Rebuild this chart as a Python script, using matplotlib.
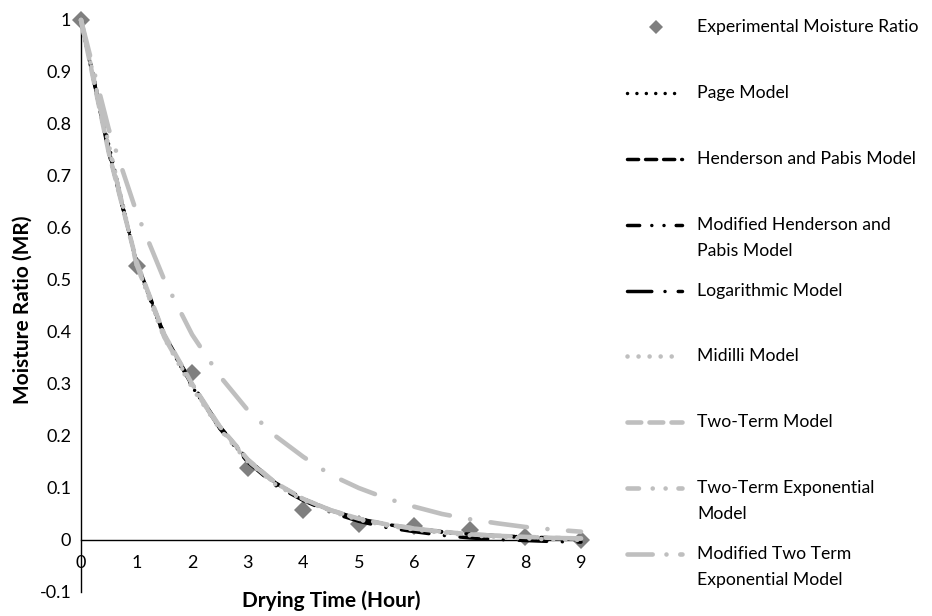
import matplotlib
matplotlib.use("Agg")
import matplotlib.pyplot as plt
from matplotlib.lines import Line2D

plt.rcParams['font.family'] = ['Lato', 'DejaVu Sans']

# ---------------- data ----------------
t_exp = [0, 1, 2, 3, 4, 5, 6, 7, 8, 9]
mr_exp = [1.0, 0.527, 0.321, 0.138, 0.058, 0.031, 0.027, 0.019, 0.006, 0.0]

t_model = [0, 0.5, 1, 1.5, 2, 2.5, 3, 3.5, 4, 4.5, 5, 5.5, 6, 6.5, 7, 7.5, 8, 8.5, 9]
mr_page = [1.0, 0.76, 0.532, 0.39, 0.295, 0.215, 0.152, 0.108, 0.078, 0.056, 0.040,
           0.029, 0.021, 0.015, 0.010, 0.007, 0.005, 0.003, 0.002]
mr_henderson = [1.0, 0.745, 0.535, 0.395, 0.300, 0.218, 0.155, 0.110, 0.079, 0.057, 0.041,
                0.030, 0.022, 0.016, 0.011, 0.008, 0.006, 0.004, 0.003]
mr_mod_henderson = [1.0, 0.748, 0.534, 0.394, 0.299, 0.217, 0.154, 0.109, 0.079, 0.057, 0.041,
                    0.030, 0.022, 0.016, 0.011, 0.008, 0.006, 0.004, 0.003]
mr_log = [1.0, 0.75, 0.533, 0.392, 0.297, 0.214, 0.150, 0.105, 0.076, 0.053, 0.036,
          0.024, 0.016, 0.009, 0.004, 0.001, -0.001, -0.003, -0.004]
mr_midilli = [1.0, 0.76, 0.530, 0.388, 0.293, 0.213, 0.151, 0.107, 0.077, 0.055, 0.039,
              0.028, 0.020, 0.014, 0.009, 0.006, 0.003, 0.001, 0.0]
mr_two_term = [1.0, 0.745, 0.535, 0.395, 0.300, 0.218, 0.155, 0.110, 0.079, 0.057, 0.041,
               0.030, 0.022, 0.016, 0.011, 0.008, 0.006, 0.004, 0.003]
mr_two_term_exp = [1.0, 0.755, 0.530, 0.390, 0.296, 0.216, 0.153, 0.109, 0.079, 0.057, 0.041,
                   0.030, 0.022, 0.016, 0.011, 0.008, 0.006, 0.004, 0.003]
mr_mod_two_term_exp = [1.0, 0.79, 0.63, 0.50, 0.395, 0.315, 0.25, 0.20, 0.16, 0.125, 0.10,
                       0.08, 0.064, 0.05, 0.04, 0.032, 0.025, 0.02, 0.016]

labels = ["Experimental Moisture Ratio", "Page Model", "Henderson and Pabis Model",
          "Modified Henderson and\nPabis Model", "Logarithmic Model", "Midilli Model",
          "Two-Term Model", "Two-Term Exponential\nModel",
          "Modified Two Term\nExponential Model"]

x_ticks = [0, 1, 2, 3, 4, 5, 6, 7, 8, 9]
y_ticks = [-0.1, 0, 0.1, 0.2, 0.3, 0.4, 0.5, 0.6, 0.7, 0.8, 0.9, 1]
y_ticklabels = ["-0.1", "0", "0.1", "0.2", "0.3", "0.4", "0.5", "0.6", "0.7", "0.8", "0.9", "1"]

# ---------------- styles ----------------
BLACK = "black"
GREY = "#bfbfbf"
MARK = "#7f7f7f"
LW_B = 2.5
LW_G = 3.3
dot = (0, (0.01, 2.6))
dash = (0, (3.2, 2.2))
ldd = (0, (5.5, 4.0, 0.01, 4.0, 0.01, 4.0))
ld = (0, (8.0, 4.5, 0.01, 4.5))

# legend samples use slightly compressed patterns so the dots fit
leg_styles = [
    (0, (0.01, 2.7)),
    (0, (3.2, 2.0)),
    (0, (3.5, 3.5, 0.01, 3.5, 0.01, 3.5)),
    (0, (7.0, 3.8, 0.01, 3.8)),
    (0, (0.01, 2.4)),
    (0, (3.0, 1.8)),
    (0, (2.5, 3.0, 0.01, 2.8, 0.01, 2.8)),
    (0, (5.5, 3.0, 0.01, 3.0)),
]

model_series = [
    (mr_page, BLACK, LW_B, dot),
    (mr_henderson, BLACK, LW_B, dash),
    (mr_mod_henderson, BLACK, LW_B, ldd),
    (mr_log, BLACK, LW_B, ld),
    (mr_midilli, GREY, LW_G, dot),
    (mr_two_term, GREY, LW_G, dash),
    (mr_two_term_exp, GREY, LW_G, ldd),
    (mr_mod_two_term_exp, GREY, LW_G, ld),
]

W, H = 932, 616
fig = plt.figure(figsize=(W / 100, H / 100), dpi=100)
ax = fig.add_axes([81 / W, 1 - 592 / H, 500 / W, 572 / H])

ax.plot(t_exp, mr_exp, linestyle='none', marker='D', color=MARK, markersize=9.5,
        markeredgewidth=0, zorder=2, clip_on=False)
for i, (vals, col, lw, ls) in enumerate(model_series):
    ax.plot(t_model, vals, color=col, lw=lw, linestyle=ls, dash_capstyle='round',
            solid_capstyle='round', zorder=3 + i, clip_on=False)

ax.set_xlim(0, 9)
ax.set_ylim(-0.1, 1)
ax.spines['top'].set_visible(False)
ax.spines['right'].set_visible(False)
ax.spines['bottom'].set_position(('data', 0))
for s in ('left', 'bottom'):
    ax.spines[s].set_linewidth(1.0)
    ax.spines[s].set_color('black')
ax.set_xticks(x_ticks)
ax.set_xticklabels([str(v) for v in x_ticks])
ax.set_yticks(y_ticks)
ax.set_yticklabels(y_ticklabels)
ax.tick_params(axis='x', length=0, pad=11, labelsize=13, colors='black')
ax.tick_params(axis='y', length=0, pad=7, labelsize=13, colors='black')

fig.text(331 / W, 1 - 601 / H, "Drying Time (Hour)", ha='center', va='center',
         fontsize=15, fontweight='bold')
fig.text(23 / W, 1 - 310 / H, "Moisture Ratio (MR)", ha='center', va='center',
         rotation=90, fontsize=15, fontweight='bold')

# ---------------- legend (manual) ----------------
leg_y = [27, 93, 159, 225, 291, 356, 422, 488, 554]
line_gap = 26
hx0, hx1, tx = 627, 682, 697
fig.add_artist(Line2D([656 / W], [1 - leg_y[0] / H], transform=fig.transFigure,
                      linestyle='none', marker='D', color=MARK, markersize=7,
                      markeredgewidth=0))
for (vals, col, lw, ls), lls, y in zip(model_series, leg_styles, leg_y[1:]):
    fig.add_artist(Line2D([hx0 / W, hx1 / W], [1 - y / H, 1 - y / H],
                          transform=fig.transFigure, color=col, lw=lw, linestyle=lls,
                          dash_capstyle='round', solid_capstyle='round'))
for lab, y in zip(labels, leg_y):
    for k, part in enumerate(lab.split("\n")):
        fig.text(tx / W, 1 - (y + k * line_gap) / H, part, ha='left', va='center',
                 fontsize=12.7)

fig.savefig("out.png", dpi=100)
